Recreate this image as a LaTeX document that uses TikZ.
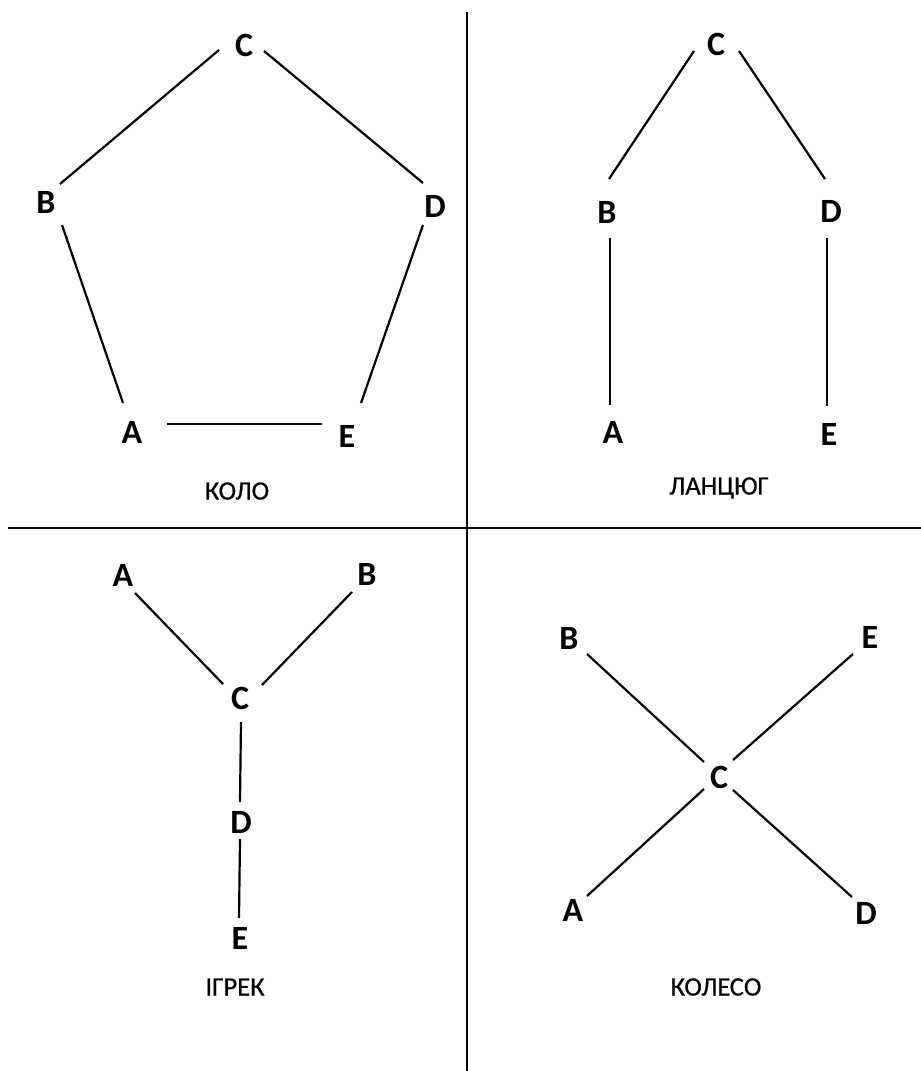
\documentclass[tikz,border=0pt]{standalone}
\usepackage{fontspec}
\setmainfont{Carlito}
\newfontfamily\capfont[FakeBold=0.6]{Carlito}
\begin{document}
\begin{tikzpicture}[x=1pt,y=-1pt,
  vtx/.style={inner sep=0pt,font=\fontsize{34}{34}\selectfont\bfseries},
  link/.style={line width=2.2pt},
  caption/.style={inner sep=0pt,font=\capfont\fontsize{26.5}{26.5}\selectfont},
  divider/.style={line width=1.6pt}]
\fill[white] (0,0) rectangle (921,1071);
\useasboundingbox (0,0) rectangle (921,1071);

% quadrant dividers
\coordinate (vtop) at (467,12);
\coordinate (vbot) at (467,1071);
\coordinate (hleft) at (8,528);
\coordinate (hright) at (921,528);
\draw[divider] (vtop) -- (vbot);
\draw[divider] (hleft) -- (hright);

% ring (offsets: x right, y down)
\node[vtx] (kC) at (244,45) {C};
\node[vtx] (kB) at (46,202) {B};
\node[vtx] (kD) at (435,206) {D};
\node[vtx] (kA) at (132,432) {A};
\node[vtx] (kE) at (347,436) {E};
\node[caption] (kcap) at (237,491) {КОЛО};
\draw[link] ([shift={(-25,5)}]kC.center) -- ([shift={(14,-18)}]kB.center);
\draw[link] ([shift={(20,6)}]kC.center) -- ([shift={(-12,-23)}]kD.center);
\draw[link] ([shift={(16,23)}]kB.center) -- ([shift={(-9,-29)}]kA.center);
\draw[link] ([shift={(-12,19)}]kD.center) -- ([shift={(14,-33)}]kE.center);
\draw[link] ([shift={(35,-8)}]kA.center) -- ([shift={(-25,-12)}]kE.center);

% chain
\node[vtx] (lC) at (716,44) {C};
\node[vtx] (lB) at (607,212) {B};
\node[vtx] (lD) at (831,211) {D};
\node[vtx] (lA) at (613,432) {A};
\node[vtx] (lE) at (829,434) {E};
\node[caption] (lcap) at (719,488) {ЛАНЦЮГ};
\draw[link] ([shift={(-22,7)}]lC.center) -- ([shift={(2,-33)}]lB.center);
\draw[link] ([shift={(23,7)}]lC.center) -- ([shift={(-6,-32)}]lD.center);
\draw[link] ([shift={(3,26)}]lB.center) -- ([shift={(-3,-27)}]lA.center);
\draw[link] ([shift={(-4,27)}]lD.center) -- ([shift={(-2,-28)}]lE.center);

% Y shape
\node[vtx] (yA) at (123,575) {A};
\node[vtx] (yB) at (367,574) {B};
\node[vtx] (yC) at (240,698) {C};
\node[vtx] (yD) at (241,822) {D};
\node[vtx] (yE) at (240,938) {E};
\node[caption] (ycap) at (235,987) {ІГРЕК};
\draw[link] ([shift={(12,18)}]yA.center) -- ([shift={(-17,-14)}]yC.center);
\draw[link] ([shift={(-15,18)}]yB.center) -- ([shift={(22,-13)}]yC.center);
\draw[link] ([shift={(1,24)}]yC.center) -- ([shift={(-1,-20)}]yD.center);
\draw[link] ([shift={(-1,17)}]yD.center) -- ([shift={(-1,-20)}]yE.center);

% wheel
\node[vtx] (wB) at (569,638) {B};
\node[vtx] (wE) at (870,637) {E};
\node[vtx] (wC) at (719,777) {C};
\node[vtx] (wA) at (573,910) {A};
\node[vtx] (wD) at (866,913) {D};
\node[caption] (wcap) at (716,987) {КОЛЕСО};
\draw[link] ([shift={(18,16)}]wB.center) -- ([shift={(-15,-15)}]wC.center);
\draw[link] ([shift={(-17,17)}]wE.center) -- ([shift={(14,-17)}]wC.center);
\draw[link] ([shift={(14,-14)}]wA.center) -- ([shift={(-15,12)}]wC.center);
\draw[link] ([shift={(-14,-16)}]wD.center) -- ([shift={(14,13)}]wC.center);
\end{tikzpicture}
\end{document}
